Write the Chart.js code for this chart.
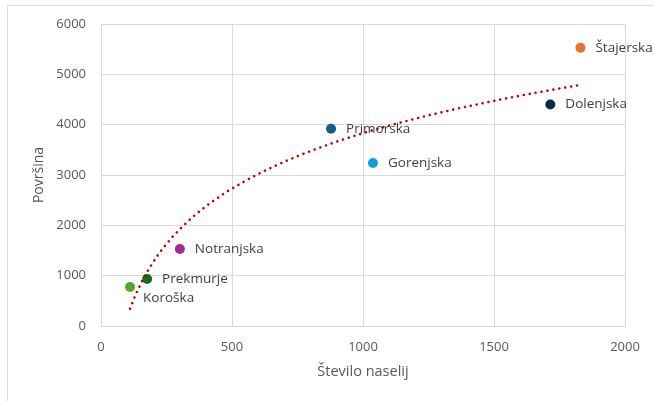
<!DOCTYPE html>
<html>
<head>
<meta charset="utf-8">
<script src="https://cdn.jsdelivr.net/npm/chart.js@4/dist/chart.umd.min.js"></script>
<style>
  html, body { margin: 0; padding: 0; background: #ffffff; }
  #wrap { position: relative; width: 654px; height: 401px; overflow: hidden; }
  canvas { display: block; }
</style>
</head>
<body>
<div id="wrap"><canvas id="c" width="654" height="401"></canvas></div>
<script>
// Regions: number of settlements vs. area
const regions     = ['Štajerska', 'Dolenjska', 'Primorska', 'Gorenjska', 'Notranjska', 'Prekmurje', 'Koroška'];
const settlements = [1830, 1715, 878, 1038, 301, 176, 111];
const area        = [5530, 4400, 3920, 3240, 1531, 935, 775];
const pointColors = ['#E97132', '#0E2841', '#156082', '#0F9ED5', '#A02B93', '#196B24', '#4EA72E'];

const xTicks = [0, 500, 1000, 1500, 2000];
const yTicks = [0, 1000, 2000, 3000, 4000, 5000, 6000];

const FONT = "'Open Sans', 'Noto Sans', sans-serif";

// Logarithmic least-squares trend: area = a * ln(settlements) + b
function logFit(xs, ys) {
  const lx = xs.map(v => Math.log(v));
  const n = xs.length;
  const mx = lx.reduce((s, v) => s + v, 0) / n;
  const my = ys.reduce((s, v) => s + v, 0) / n;
  let sxy = 0, sxx = 0;
  for (let i = 0; i < n; i++) {
    sxy += (lx[i] - mx) * (ys[i] - my);
    sxx += (lx[i] - mx) * (lx[i] - mx);
  }
  const a = sxy / sxx;
  return { a, b: my - a * mx };
}
const fit = logFit(settlements, area);
const xMin = Math.min(...settlements), xMax = Math.max(...settlements);
const trend = [];
for (let i = 0; i <= 120; i++) {
  const x = xMin + (xMax - xMin) * i / 120;
  trend.push({ x, y: fit.a * Math.log(x) + fit.b });
}

const points = settlements.map((x, i) => ({ x, y: area[i] }));

// Label placement per point (default: to the right of the marker)
const labelShift = { 'Koroška': { dx: 13, dy: 11 } };

const frame = {
  id: 'frame',
  beforeDraw(chart) {
    const ctx = chart.ctx;
    ctx.save();
    ctx.fillStyle = '#ffffff';
    ctx.fillRect(0, 0, chart.width, chart.height);
    ctx.strokeStyle = '#D9D9D9';
    ctx.lineWidth = 1;
    ctx.strokeRect(7.5, 5.5, 800, 500);
    ctx.restore();
  }
};

const pointLabels = {
  id: 'pointLabels',
  afterDatasetsDraw(chart) {
    const ctx = chart.ctx;
    const meta = chart.getDatasetMeta(1);
    ctx.save();
    ctx.font = '13.5px ' + FONT;
    ctx.fillStyle = '#404040';
    ctx.textAlign = 'left';
    ctx.textBaseline = 'middle';
    meta.data.forEach((el, i) => {
      const name = regions[i];
      const s = labelShift[name] || { dx: 15, dy: 0 };
      ctx.fillText(name, el.x + s.dx, el.y + s.dy);
    });
    ctx.restore();
  }
};

const plain = v => String(v);

new Chart(document.getElementById('c'), {
  type: 'scatter',
  data: {
    datasets: [
      {
        label: 'Trend',
        data: trend,
        showLine: true,
        pointRadius: 0,
        borderColor: '#C00000',
        borderWidth: 2.6,
        borderCapStyle: 'round',
        borderDash: [0.01, 6],
        tension: 0,
        fill: false
      },
      {
        label: 'Regije',
        data: points,
        pointRadius: 5,
        pointHoverRadius: 5,
        pointBorderWidth: 0,
        pointBackgroundColor: pointColors,
        pointBorderColor: pointColors
      }
    ]
  },
  options: {
    responsive: false,
    animation: false,
    events: [],
    layout: { padding: { left: 0, top: 24, right: 29, bottom: 0 } },
    plugins: { legend: { display: false }, tooltip: { enabled: false } },
    scales: {
      x: {
        type: 'linear',
        min: 0, max: 2000,
        afterBuildTicks: s => { s.ticks = xTicks.map(v => ({ value: v })); },
        afterFit: s => { s.height = 75; },
        grid: { color: '#D9D9D9', lineWidth: 1, drawTicks: false },
        border: { color: '#D9D9D9', width: 1 },
        ticks: { color: '#595959', font: { family: FONT, size: 13 }, padding: 13, callback: plain },
        title: { display: true, text: 'Število naselij', color: '#595959',
                 font: { family: FONT, size: 14.5 }, padding: { top: 0, bottom: 20 } }
      },
      y: {
        type: 'linear',
        min: 0, max: 6000,
        afterBuildTicks: s => { s.ticks = yTicks.map(v => ({ value: v })); },
        afterFit: s => { s.width = 101; },
        grid: { color: '#D9D9D9', lineWidth: 1, drawTicks: false },
        border: { color: '#D9D9D9', width: 1 },
        ticks: { color: '#595959', font: { family: FONT, size: 13 }, padding: 15, callback: plain },
        title: { display: true, text: 'Površina', color: '#595959',
                 font: { family: FONT, size: 14 }, padding: { top: 31, bottom: 0 } }
      }
    }
  },
  plugins: [frame, pointLabels]
});
</script>
</body>
</html>
